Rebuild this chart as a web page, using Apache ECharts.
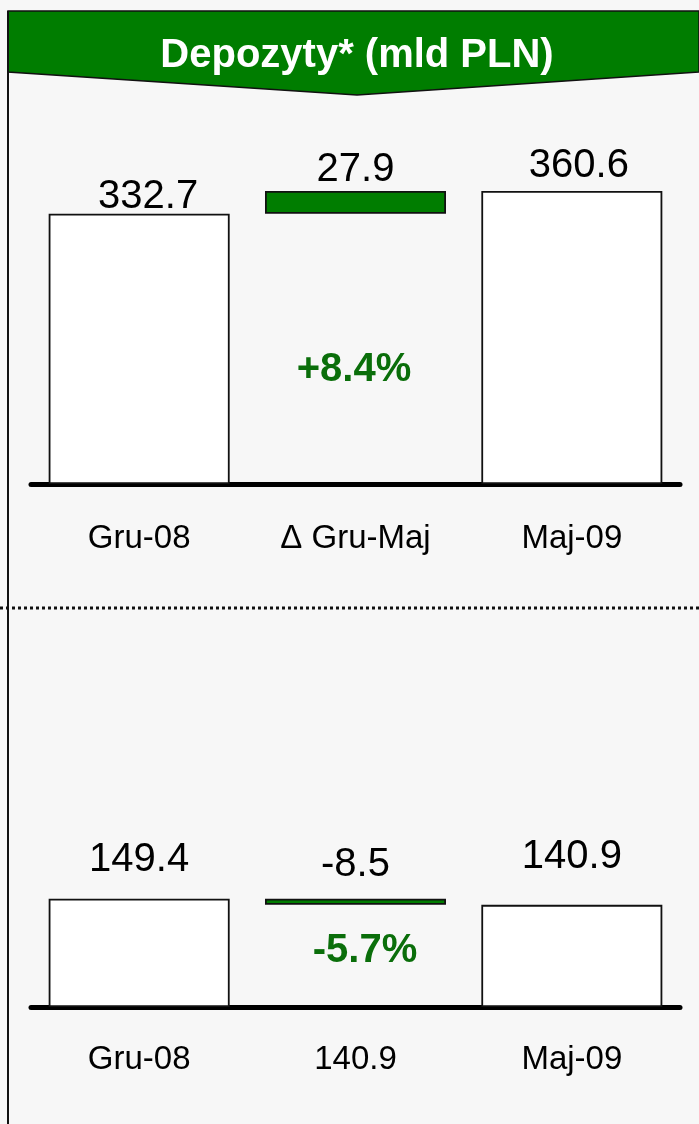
<!DOCTYPE html>
<html>
<head>
<meta charset="utf-8">
<script src="https://cdn.jsdelivr.net/npm/echarts@6/dist/echarts.min.js"></script>
<style>
  html, body { margin: 0; padding: 0; background: #f7f7f7; }
  #chart { width: 699px; height: 1124px; }
</style>
</head>
<body>
<div id="chart"></div>
<script>
// dane wykresu
var titleText = 'Depozyty* (mld PLN)';
var topCategories = ['Gru-08', '\u0394 Gru-Maj', 'Maj-09'];
var topValues = [332.7, 27.9, 360.6];
var topChange = '+8.4%';
var bottomCategories = ['Gru-08', '140.9', 'Maj-09'];
var bottomValues = [149.4, -8.5, 140.9];
var bottomChange = '-5.7%';

var fontFamily = 'Liberation Sans, Arial, sans-serif';
var green = '#007d00';

// podstawa (niewidoczna) i widoczna czesc slupka - wodospad
function waterfall(values) {
    var start = values[0], delta = values[1], end = values[2];
    return {
        base: [0, Math.min(start, start + delta), 0],
        shown: [start, Math.abs(delta), end]
    };
}

function buildSeries(values, idx, labelGap, labelShift) {
    var wf = waterfall(values);
    return [
        {
            type: 'bar',
            stack: 's' + idx,
            xAxisIndex: idx,
            yAxisIndex: idx,
            barWidth: 181,
            silent: true,
            itemStyle: { color: 'transparent' },
            data: wf.base
        },
        {
            type: 'bar',
            stack: 's' + idx,
            xAxisIndex: idx,
            yAxisIndex: idx,
            barWidth: 181,
            data: wf.shown.map(function (v, i) {
                return {
                    value: v,
                    itemStyle: {
                        color: i === 1 ? green : '#ffffff',
                        borderColor: '#111',
                        borderWidth: 1.8
                    },
                    label: {
                        show: true,
                        position: 'top',
                        distance: labelGap[i],
                        offset: [labelShift[i], 0],
                        formatter: function () { return String(values[i]); },
                        color: '#000',
                        fontFamily: fontFamily,
                        fontSize: 40
                    }
                };
            })
        }
    ];
}

function xAxisCfg(cats, idx, margin) {
    return {
        type: 'category',
        gridIndex: idx,
        data: cats,
        axisTick: { show: false },
        axisLine: { show: true, lineStyle: { color: '#000', width: 5, cap: 'round' } },
        axisLabel: {
            color: '#000',
            fontFamily: fontFamily,
            fontSize: 33,
            margin: margin
        }
    };
}

function yAxisCfg(idx, max) {
    return {
        type: 'value',
        gridIndex: idx,
        min: 0,
        max: max,
        show: false,
        splitLine: { show: false }
    };
}

var chart = echarts.init(document.getElementById('chart'));
var option = {
    backgroundColor: '#f7f7f7',
    animation: false,
    grid: [
        { left: 31, right: 19, top: 159, bottom: 640 },
        { left: 31, right: 19, top: 862, bottom: 117 }
    ],
    xAxis: [xAxisCfg(topCategories, 0, 38), xAxisCfg(bottomCategories, 1, 36)],
    yAxis: [yAxisCfg(0, 400), yAxisCfg(1, 200)],
    series: buildSeries(topValues, 0, [-3, 1.5, 5.5], [9, 0, 7])
        .concat(buildSeries(bottomValues, 1, [18.5, 13.5, 27.5], [0, 0, 0])),
    graphic: [
        {
            type: 'polygon',
            shape: { points: [[8, 11], [699, 11], [699, 72], [357, 95], [8, 72]] },
            style: { fill: green, stroke: '#111', lineWidth: 1.5 }
        },
        {
            type: 'text',
            x: 357, y: 56,
            style: {
                text: titleText,
                fill: '#fff',
                font: 'bold 40px ' + fontFamily,
                textAlign: 'center',
                textVerticalAlign: 'middle'
            }
        },
        {
            type: 'line',
            shape: { x1: 8, y1: 11, x2: 8, y2: 1124 },
            style: { stroke: '#111', lineWidth: 2 }
        },
        {
            type: 'line',
            shape: { x1: 0, y1: 608, x2: 699, y2: 608 },
            style: { stroke: '#111', lineWidth: 3, lineDash: [3, 3] }
        },
        {
            type: 'text',
            x: 354, y: 370,
            style: {
                text: topChange,
                fill: '#0a6e0a',
                font: 'bold 40px ' + fontFamily,
                textAlign: 'center',
                textVerticalAlign: 'middle'
            }
        },
        {
            type: 'text',
            x: 365, y: 951,
            style: {
                text: bottomChange,
                fill: '#0a6e0a',
                font: 'bold 40px ' + fontFamily,
                textAlign: 'center',
                textVerticalAlign: 'middle'
            }
        }
    ]
};
chart.setOption(option);
</script>
</body>
</html>
